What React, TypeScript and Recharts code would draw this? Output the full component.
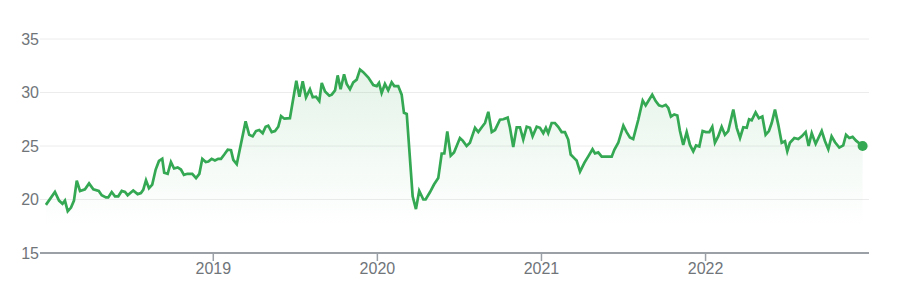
import { Area, AreaChart, CartesianGrid, ReferenceDot, XAxis, YAxis } from "recharts"

document.body.style.margin = "0"

const years = [
  2017.98, 2018.035, 2018.06, 2018.081, 2018.096, 2018.113, 2018.133, 2018.151, 2018.168, 2018.188,
  2018.218, 2018.243, 2018.269, 2018.302, 2018.32, 2018.346, 2018.36, 2018.381, 2018.401, 2018.421,
  2018.442, 2018.462, 2018.478, 2018.512, 2018.539, 2018.559, 2018.573, 2018.59, 2018.608, 2018.628,
  2018.649, 2018.669, 2018.689, 2018.701, 2018.722, 2018.742, 2018.761, 2018.783, 2018.803, 2018.821,
  2018.842, 2018.872, 2018.895, 2018.915, 2018.933, 2018.954, 2018.97, 2018.99, 2019.01, 2019.03,
  2019.047, 2019.067, 2019.088, 2019.108, 2019.122, 2019.143, 2019.197, 2019.219, 2019.24, 2019.26,
  2019.28, 2019.301, 2019.319, 2019.335, 2019.356, 2019.376, 2019.396, 2019.413, 2019.433, 2019.467,
  2019.506, 2019.525, 2019.545, 2019.565, 2019.589, 2019.606, 2019.626, 2019.646, 2019.661, 2019.681,
  2019.707, 2019.722, 2019.742, 2019.758, 2019.776, 2019.797, 2019.813, 2019.833, 2019.853, 2019.874,
  2019.894, 2019.914, 2019.945, 2019.975, 2019.996, 2020.01, 2020.026, 2020.046, 2020.066, 2020.087,
  2020.103, 2020.127, 2020.148, 2020.162, 2020.179, 2020.215, 2020.235, 2020.255, 2020.28, 2020.294,
  2020.321, 2020.345, 2020.371, 2020.392, 2020.408, 2020.426, 2020.447, 2020.467, 2020.503, 2020.52,
  2020.544, 2020.564, 2020.595, 2020.615, 2020.636, 2020.656, 2020.676, 2020.697, 2020.717, 2020.747,
  2020.767, 2020.794, 2020.808, 2020.828, 2020.849, 2020.869, 2020.889, 2020.91, 2020.93, 2020.946,
  2020.971, 2020.991, 2021.011, 2021.027, 2021.041, 2021.062, 2021.082, 2021.102, 2021.123, 2021.143,
  2021.163, 2021.178, 2021.204, 2021.214, 2021.235, 2021.262, 2021.288, 2021.311, 2021.326, 2021.346,
  2021.367, 2021.428, 2021.444, 2021.468, 2021.499, 2021.519, 2021.539, 2021.559, 2021.59, 2021.617,
  2021.635, 2021.655, 2021.675, 2021.696, 2021.716, 2021.736, 2021.757, 2021.773, 2021.789, 2021.809,
  2021.828, 2021.844, 2021.864, 2021.885, 2021.905, 2021.925, 2021.942, 2021.962, 2021.982, 2022.002,
  2022.023, 2022.041, 2022.057, 2022.077, 2022.098, 2022.118, 2022.138, 2022.169, 2022.19, 2022.21,
  2022.23, 2022.251, 2022.265, 2022.281, 2022.305, 2022.325, 2022.346, 2022.366, 2022.386, 2022.403,
  2022.423, 2022.443, 2022.464, 2022.484, 2022.498, 2022.514, 2022.541, 2022.565, 2022.586, 2022.61,
  2022.628, 2022.647, 2022.671, 2022.708, 2022.728, 2022.748, 2022.768, 2022.789, 2022.815, 2022.839,
  2022.856, 2022.876, 2022.896, 2022.917, 2022.957,
]

const prices = [
  19.5, 20.7, 19.9, 19.6, 19.9, 18.9, 19.25, 19.9, 21.75, 20.8,
  20.95, 21.5, 20.95, 20.8, 20.4, 20.2, 20.2, 20.7, 20.3, 20.3,
  20.8, 20.7, 20.4, 20.85, 20.5, 20.6, 20.9, 21.8, 21.05, 21.4,
  22.8, 23.6, 23.8, 22.5, 22.4, 23.5, 22.9, 23.0, 22.8, 22.3,
  22.4, 22.4, 22.0, 22.4, 23.8, 23.5, 23.55, 23.8, 23.65, 23.8,
  23.8, 24.2, 24.65, 24.6, 23.7, 23.3, 27.3, 26.05, 25.9, 26.4,
  26.5, 26.2, 26.8, 26.9, 26.3, 26.4, 26.8, 27.8, 27.55, 27.6,
  31.1, 29.6, 31.05, 29.55, 30.3, 29.55, 29.6, 29.2, 30.9, 30.1,
  29.7, 29.8, 30.2, 31.6, 30.3, 31.7, 30.8, 30.3, 30.95, 31.2,
  32.15, 31.9, 31.4, 30.7, 30.6, 30.9, 29.95, 30.8, 30.2, 30.95,
  30.6, 30.6, 29.8, 28.1, 28.0, 20.3, 19.1, 20.8, 20.0, 20.0,
  20.7, 21.4, 22.0, 24.3, 24.3, 26.35, 24.1, 24.4, 25.75, 25.5,
  25.0, 25.3, 26.7, 26.3, 26.75, 27.15, 28.2, 26.3, 26.5, 27.45,
  27.5, 27.65, 26.7, 24.9, 26.75, 26.75, 25.6, 26.8, 26.7, 25.9,
  26.8, 26.7, 26.2, 26.7, 26.2, 27.15, 27.15, 26.8, 26.3, 26.3,
  25.6, 24.2, 23.8, 23.65, 22.6, 23.45, 24.1, 24.7, 24.3, 24.4,
  24.0, 24.0, 24.65, 25.3, 26.9, 26.3, 25.8, 25.65, 27.45, 29.25,
  28.8, 29.3, 29.8, 29.2, 28.8, 28.7, 28.85, 28.55, 27.75, 27.95,
  27.85, 26.4, 25.1, 26.3, 25.1, 24.5, 25.05, 24.95, 26.4, 26.3,
  26.3, 26.8, 25.3, 25.9, 26.8, 26.05, 26.4, 28.4, 26.7, 25.75,
  26.75, 26.7, 27.5, 27.4, 28.15, 27.6, 27.75, 26.05, 26.4, 27.15,
  28.4, 27.0, 25.3, 25.45, 24.5, 25.3, 25.75, 25.65, 25.9, 26.3,
  25.0, 26.2, 25.2, 26.4, 25.45, 24.7, 25.9, 25.35, 24.85, 25.05,
  26.05, 25.75, 25.85, 25.5, 25.0,
]

const yearTicks = [2019, 2020, 2021, 2022]
const priceTicks = [15, 20, 25, 30, 35]

const data = years.map((year, i) => ({ year, price: prices[i] }))
const last = data[data.length - 1]

const green = "#34a853"
const textColor = "#70757a"
const font = "Arial, 'Liberation Sans', sans-serif"

export default function App() {
  return (
    <AreaChart
      width={903}
      height={307}
      data={data}
      margin={{ top: 39, right: 34, left: 0, bottom: 0 }}
      style={{ fontFamily: font }}
    >
      <defs>
        <linearGradient id="fillGreen" x1="0" y1="0" x2="0" y2="1">
          <stop offset="0%" stopColor={green} stopOpacity={0.22} />
          <stop offset="85%" stopColor={green} stopOpacity={0} />
        </linearGradient>
      </defs>
      <CartesianGrid vertical={false} stroke="#ececec" />
      <XAxis
        dataKey="year"
        type="number"
        domain={[2017.944, 2022.996]}
        ticks={yearTicks}
        height={54}
        tickSize={8}
        tickMargin={2}
        axisLine={{ stroke: "#9aa0a6", strokeWidth: 2 }}
        tickLine={{ stroke: "#9aa0a6", strokeWidth: 1.5 }}
        tick={{ fill: textColor, fontSize: 16 }}
      />
      <YAxis
        domain={[15, 35]}
        ticks={priceTicks}
        width={40}
        axisLine={false}
        tickLine={false}
        tickSize={0}
        tickMargin={1}
        tick={{ fill: textColor, fontSize: 16 }}
      />
      <Area
        type="linear"
        dataKey="price"
        stroke={green}
        strokeWidth={2.7}
        fill="url(#fillGreen)"
        isAnimationActive={false}
        dot={false}
        activeDot={false}
      />
      <ReferenceDot x={last.year} y={last.price} r={5} fill={green} stroke="none" />
    </AreaChart>
  )
}
